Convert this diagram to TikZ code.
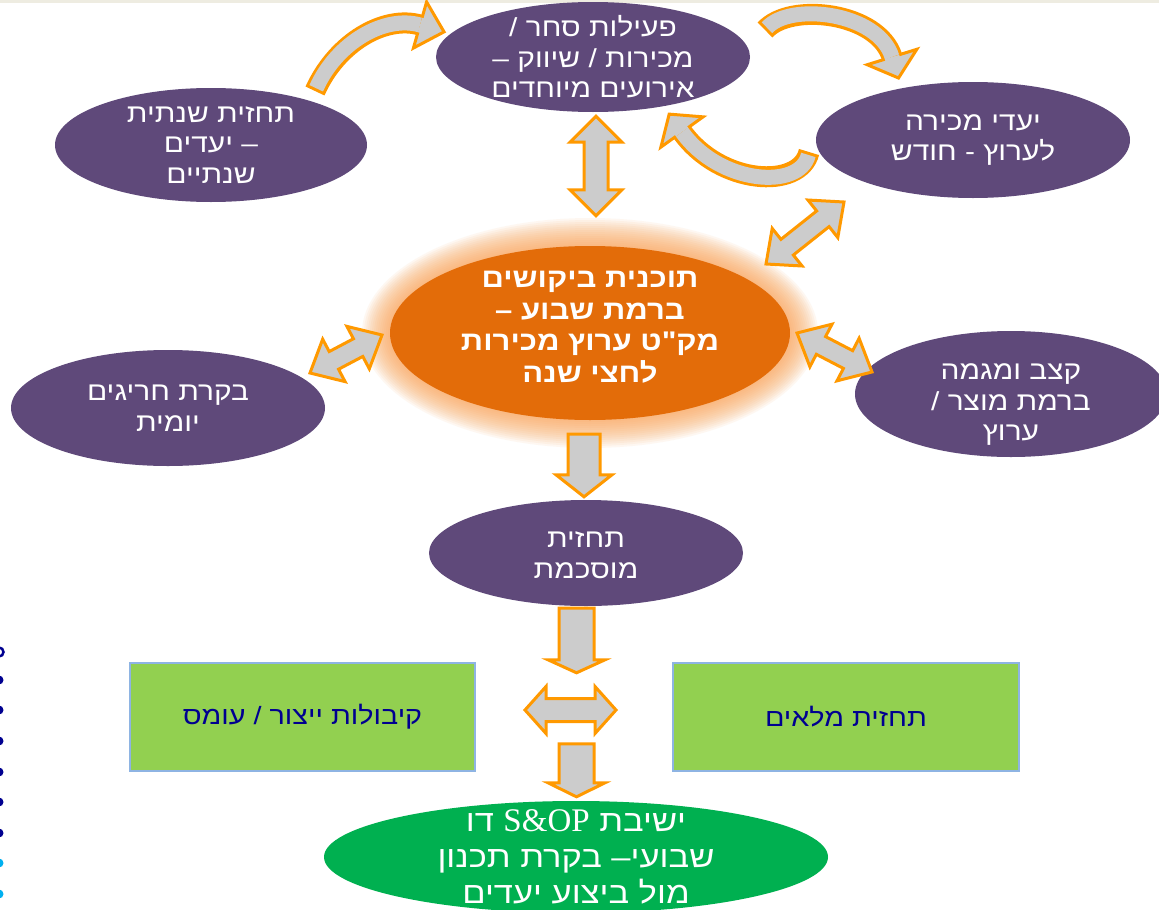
\documentclass[tikz,border=0pt]{standalone}
\usepackage{fontspec}
\usetikzlibrary{calc,shapes.geometric}
\TeXXeTstate=1
\newfontfamily\hebfont[Script=Hebrew, FakeStretch=1.15]{Liberation Sans}
\newfontfamily\serfont{Liberation Serif}
\newcommand\heb[1]{\beginR #1\endR}
\definecolor{purp}{HTML}{5F497A}
\definecolor{orng}{HTML}{E36C09}
\definecolor{grn}{HTML}{00B050}
\definecolor{lgrn}{HTML}{92D050}
\definecolor{lblue}{HTML}{8EB4E3}
\definecolor{arrgray}{HTML}{CCCCCC}
\definecolor{arrorange}{HTML}{FF9900}
\definecolor{dblue}{HTML}{000090}
\definecolor{cyanb}{HTML}{00B0F0}
\definecolor{glowc}{RGB}{250,160,80}
\definecolor{beige}{HTML}{EEECE1}
% straight double block arrow: tipA, tipB, shaft half, head half, head length
\newcommand\dblarrow[5]{%
  \coordinate (tA) at #1; \coordinate (tB) at #2;
  \coordinate (hA) at ($(tA)!#5!(tB)$);
  \coordinate (hB) at ($(tB)!#5!(tA)$);
  \draw[arrbody] (tA) -- ($(hA)!#4!90:(tB)$) -- ($(hA)!#3!90:(tB)$)
    -- ($(hB)!#3!-90:(tA)$) -- ($(hB)!#4!-90:(tA)$) -- (tB)
    -- ($(hB)!#4!90:(tA)$) -- ($(hB)!#3!90:(tA)$)
    -- ($(hA)!#3!-90:(tB)$) -- ($(hA)!#4!-90:(tB)$) -- cycle;}
% straight single block arrow: tail, tip, shaft half, head half, head length
\newcommand\sglarrow[5]{%
  \coordinate (tA) at #1; \coordinate (tB) at #2;
  \coordinate (hB) at ($(tB)!#5!(tA)$);
  \draw[arrbody] ($(tA)!#3!90:(tB)$) -- ($(hB)!#3!-90:(tA)$) -- ($(hB)!#4!-90:(tA)$) -- (tB)
    -- ($(hB)!#4!90:(tA)$) -- ($(hB)!#3!90:(tA)$) -- ($(tA)!#3!-90:(tB)$) -- cycle;}
% curved block arrow: P0,P1,P2,P3, head half, head length
\newcommand\crvarrow[6]{%
  \coordinate (cA) at #1; \coordinate (cB) at #2; \coordinate (cC) at #3; \coordinate (cD) at #4;
  \draw[line width=21pt, arrorange] (cA) .. controls (cB) and (cC) .. (cD);
  \draw[arrbody] ($(cD)!#5!90:(cC)$) -- ($(cD)!-#6!(cC)$) -- ($(cD)!#5!-90:(cC)$) -- cycle;
  \draw[line width=15pt, arrgray, shorten <=3pt] (cA) .. controls (cB) and (cC) .. (cD);
  \draw[line width=15pt, arrgray] (cD) -- ($(cD)!-5pt!(cC)$);}
\tikzset{
  ell/.style={ellipse, fill=purp, text=white, inner xsep=0pt, inner ysep=-20pt, align=center,
    font=\hebfont\fontsize{26}{30.5}\selectfont},
  elltext/.style={text=white, inner sep=0pt, align=center,
    font=\hebfont\fontsize{26}{30.5}\selectfont},
  box/.style={rectangle, fill=lgrn, draw=lblue, line width=2pt, text=dblue,
    minimum width=345pt, minimum height=108pt, font=\hebfont\fontsize{25}{28}\selectfont},
  arrbody/.style={fill=arrgray, draw=arrorange, line width=3pt, line join=miter},
}
\begin{document}
\begin{tikzpicture}[x=1pt,y=-1pt]
\useasboundingbox (0,0) rectangle (1159,910);
\fill[white] (0,0) rectangle (1159,910);
\fill[beige] (0,0) rectangle (1159,2.5);
% bullets
\draw[dblue, line width=2.5pt] (-1,652) circle (4.5);
\foreach \yy in {680,710,741,772,802,833} \fill[dblue] (-1,\yy) circle (4.5);
\foreach \yy in {863,894} \fill[cyanb] (-1,\yy) circle (4.5);
% glow
\coordinate (demc) at (590,333);
\foreach \k in {0,...,14}
  \fill[glowc, opacity=0.08] (demc) ellipse [x radius={228-2*\k}, y radius={115-2*\k}];
% nodes
\node[ell, minimum width=314pt, minimum height=110pt] (top) at (593,57)
  {\heb{פעילות סחר /}\\\heb{מכירות / שיווק –}\\\heb{אירועים מיוחדים}};
\node[ell, minimum width=312pt, minimum height=114pt] (ann) at (211,145)
  {\heb{תחזית שנתית}\\\heb{– יעדים}\\\heb{שנתיים}};
\node[ell, minimum width=314pt, minimum height=116pt] (mon) at (973,140)
  {\heb{יעדי מכירה}\\\heb{לערוץ - חודש}};
\node[ell, fill=orng, minimum width=400pt, minimum height=174pt] (dem) at (demc) {};
\node[elltext, font=\hebfont\bfseries\fontsize{27}{31.5}\selectfont] (demtxt) at ($(dem.center)+(0,-6)$)
  {\heb{תוכנית ביקושים}\\\heb{ברמת שבוע –}\\\heb{מק"ט ערוץ מכירות}\\\heb{לחצי שנה}};
\node[ell, minimum width=314pt, minimum height=116pt] (exc) at (168,408)
  {\heb{בקרת חריגים}\\\heb{יומית}};
\node[ell, minimum width=312pt, minimum height=126pt] (trend) at (1011,394) {};
\node[elltext] (trendtxt) at ($(trend.center)+(0,11)$)
  {\heb{קצב ומגמה}\\\heb{ברמת מוצר /}\\\heb{ערוץ}};
\node[ell, minimum width=314pt, minimum height=106pt] (agr) at (586,553) {};
\node[elltext] (agrtxt) at ($(agr.center)+(0,2)$) {\heb{תחזית}\\\heb{מוסכמת}};
\node[ell, fill=grn, minimum width=504pt, minimum height=112pt,
  font=\hebfont\fontsize{30}{36}\selectfont] (sop) at (576,857)
  {\heb{ישיבת \beginL{\serfont\fontsize{33}{36}\selectfont S\&OP}\endL{} דו}\\\heb{שבועי– בקרת תכנון}\\\heb{מול ביצוע יעדים}};
\node[box] (cap) at (302.5,716.5) {\heb{קיבולות ייצור / עומס}};
\node[box, minimum width=346pt] (inv) at (846,716.5) {\heb{תחזית מלאים}};
% straight block arrows
\dblarrow{($(top.south)+(3,4)$)}{($(dem.north)+(6,-30)$)}{12pt}{26pt}{26pt}
\dblarrow{($(dem.center)+(176,-69)$)}{($(mon.center)+(-129,62)$)}{10pt}{24pt}{27pt}
\dblarrow{($(exc.center)+(142,-35)$)}{($(dem.center)+(-208,2)$)}{10pt}{24pt}{27pt}
\dblarrow{($(dem.center)+(207,0)$)}{($(trend.center)+(-139,-22)$)}{10pt}{24pt}{27pt}
\sglarrow{($(dem.south)+(-6,14)$)}{($(agr.north)+(-2,-3)$)}{16pt}{28pt}{22pt}
\sglarrow{($(agr.south)+(-9.5,2)$)}{($(sop.north)+(0.5,-128)$)}{17.5pt}{28.5pt}{13pt}
\dblarrow{($(cap.east)+(49,-6.5)$)}{($(inv.west)+(-56,-6.5)$)}{11.5pt}{23.5pt}{21pt}
\sglarrow{($(sop.north)+(0.5,-57)$)}{($(sop.north)+(0.5,-4)$)}{17.5pt}{28.5pt}{14pt}
% curved block arrows
\crvarrow{($(ann.center)+(104,-54)$)}{(337,42)}{(385,15)}{($(top.center)+(-173,-32)$)}{24pt}{25pt}
\crvarrow{($(top.center)+(172,-27)$)}{(790,2)}{(878,12)}{($(mon.center)+(-81,-83)$)}{26pt}{22pt}
\crvarrow{($(mon.center)+(-164,12)$)}{(800,190)}{(720,185)}{($(top.center)+(89,75)$)}{26pt}{22pt}
\end{tikzpicture}
\end{document}
